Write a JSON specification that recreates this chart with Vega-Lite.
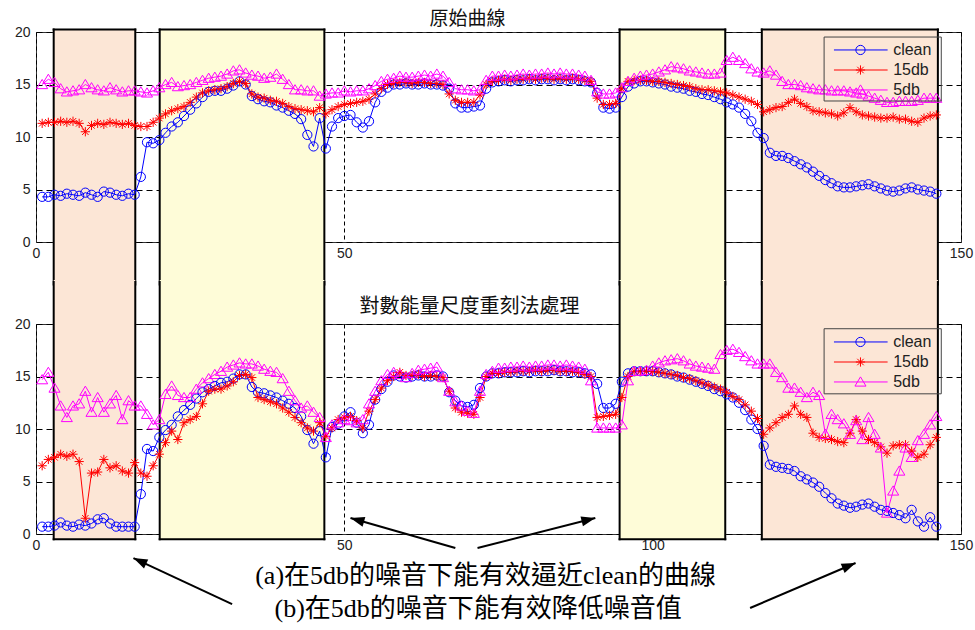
{
  "$schema": "https://vega.github.io/schema/vega-lite/v6.json",
  "padding": {"left": 13, "top": 9, "right": 5, "bottom": 5},
  "background": "white",
  "bounds": "flush",
  "spacing": 82,
  "config": {
    "view": {"stroke": "#333", "strokeWidth": 1},
    "axis": {"labelFont": "Liberation Sans", "labelFontSize": 14, "labelColor": "#222", "ticks": false, "domain": false, "grid": true, "gridColor": "#000", "gridWidth": 1, "zindex": 1, "labelFlush": false},
    "axisX": {"tickCount": 3, "gridDash": [4, 3], "labelPadding": 4},
    "axisY": {"tickCount": 4, "gridDash": [6, 4], "labelPadding": 6},
    "title": {"font": "Noto Sans CJK TC", "fontSize": 20, "fontWeight": "normal", "color": "#111", "anchor": "middle", "frame": "group"}
  },
  "datasets": {
    "boxes": [
      {"start": 2.87, "end": 16.1, "kind": "noise"},
      {"start": 20.06, "end": 46.76, "kind": "approx"},
      {"start": 94.64, "end": 111.77, "kind": "approx"},
      {"start": 117.7, "end": 146.25, "kind": "noise"}
    ],
    "legend": [
      {"series": "clean", "ly": 18.29},
      {"series": "15db", "ly": 16.38},
      {"series": "5db", "ly": 14.48}
    ],
    "arrows": [
      {"id": "a1", "tx": 68.0, "ty": -1.33, "hx": 51.0, "hy": 1.52},
      {"id": "a2", "tx": 71.6, "ty": -1.33, "hx": 90.7, "hy": 1.52},
      {"id": "a3", "tx": 31.8, "ty": -6.67, "hx": 15.8, "hy": -2.29},
      {"id": "a4", "tx": 115.8, "ty": -7.05, "hx": 132.9, "hy": -2.76}
    ],
    "notes": [
      {"t": "(a)在5db的噪音下能有效逼近clean的曲線", "x": 72.9, "y": -4.0},
      {"t": "(b)在5db的噪音下能有效降低噪音值", "x": 71.7, "y": -7.14}
    ],
    "top": [
      {"x":1,"clean":4.3,"15db":11.3,"5db":15.0},{"x":2,"clean":4.3,"15db":11.4,"5db":15.5},{"x":3,"clean":4.5,"15db":11.4,"5db":15.2},{"x":4,"clean":4.4,"15db":11.5,"5db":14.6},{"x":5,"clean":4.6,"15db":11.4,"5db":14.3},
      {"x":6,"clean":4.5,"15db":11.5,"5db":14.4},{"x":7,"clean":4.4,"15db":11.3,"5db":14.5},{"x":8,"clean":4.7,"15db":10.5,"5db":15.0},{"x":9,"clean":4.5,"15db":11.1,"5db":14.7},{"x":10,"clean":4.3,"15db":11.3,"5db":14.5},
      {"x":11,"clean":4.8,"15db":11.2,"5db":14.4},{"x":12,"clean":4.7,"15db":11.4,"5db":14.7},{"x":13,"clean":4.5,"15db":11.3,"5db":14.5},{"x":14,"clean":4.4,"15db":11.2,"5db":14.3},{"x":15,"clean":4.6,"15db":11.3,"5db":14.4},
      {"x":16,"clean":4.5,"15db":11.1,"5db":14.4},{"x":17,"clean":6.2,"15db":11.0,"5db":14.3},{"x":18,"clean":9.5,"15db":11.0,"5db":14.2},{"x":19,"clean":9.4,"15db":11.4,"5db":14.4},{"x":20,"clean":9.7,"15db":11.8,"5db":14.7},
      {"x":21,"clean":10.4,"15db":12.2,"5db":15.0},{"x":22,"clean":11.0,"15db":12.5,"5db":15.2},{"x":23,"clean":11.4,"15db":12.7,"5db":14.8},{"x":24,"clean":12.0,"15db":12.9,"5db":14.9},{"x":25,"clean":12.6,"15db":13.3,"5db":15.0},
      {"x":26,"clean":13.2,"15db":13.8,"5db":15.2},{"x":27,"clean":13.8,"15db":14.2,"5db":15.4},{"x":28,"clean":14.3,"15db":14.4,"5db":15.6},{"x":29,"clean":14.4,"15db":14.5,"5db":15.7},{"x":30,"clean":14.4,"15db":14.6,"5db":15.8},
      {"x":31,"clean":14.6,"15db":14.8,"5db":16.0},{"x":32,"clean":14.9,"15db":15.1,"5db":16.3},{"x":33,"clean":15.3,"15db":15.3,"5db":16.4},{"x":34,"clean":15.0,"15db":15.1,"5db":16.1},{"x":35,"clean":13.9,"15db":14.1,"5db":15.9},
      {"x":36,"clean":13.6,"15db":13.8,"5db":15.8},{"x":37,"clean":13.4,"15db":13.7,"5db":15.6},{"x":38,"clean":13.3,"15db":13.5,"5db":15.7},{"x":39,"clean":13.0,"15db":13.4,"5db":16.0},{"x":40,"clean":12.8,"15db":13.2,"5db":15.5},
      {"x":41,"clean":12.5,"15db":12.9,"5db":15.0},{"x":42,"clean":12.2,"15db":12.7,"5db":14.5},{"x":43,"clean":11.7,"15db":12.6,"5db":14.5},{"x":44,"clean":10.2,"15db":12.5,"5db":14.4},{"x":45,"clean":9.1,"15db":12.4,"5db":14.4},
      {"x":46,"clean":11.8,"15db":12.8,"5db":13.9},{"x":47,"clean":8.9,"15db":12.2,"5db":14.1},{"x":48,"clean":11.0,"15db":12.6,"5db":14.2},{"x":49,"clean":11.8,"15db":12.9,"5db":14.2},{"x":50,"clean":12.0,"15db":13.1,"5db":14.4},
      {"x":51,"clean":12.1,"15db":13.2,"5db":14.3},{"x":52,"clean":11.4,"15db":13.3,"5db":14.4},{"x":53,"clean":10.9,"15db":13.4,"5db":14.4},{"x":54,"clean":11.5,"15db":13.6,"5db":14.6},{"x":55,"clean":13.3,"15db":14.1,"5db":14.9},
      {"x":56,"clean":14.3,"15db":14.6,"5db":15.3},{"x":57,"clean":14.7,"15db":15.0,"5db":15.5},{"x":58,"clean":15.0,"15db":15.1,"5db":15.6},{"x":59,"clean":15.0,"15db":15.2,"5db":15.8},{"x":60,"clean":15.1,"15db":15.2,"5db":15.7},
      {"x":61,"clean":15.0,"15db":15.1,"5db":15.7},{"x":62,"clean":15.0,"15db":15.2,"5db":15.8},{"x":63,"clean":15.1,"15db":15.2,"5db":15.9},{"x":64,"clean":15.0,"15db":15.1,"5db":15.8},{"x":65,"clean":15.0,"15db":15.1,"5db":16.0},
      {"x":66,"clean":14.9,"15db":15.0,"5db":15.8},{"x":67,"clean":14.6,"15db":14.1,"5db":15.2},{"x":68,"clean":13.2,"15db":13.5,"5db":14.6},{"x":69,"clean":12.8,"15db":13.3,"5db":14.5},{"x":70,"clean":12.8,"15db":13.3,"5db":14.5},
      {"x":71,"clean":12.9,"15db":13.3,"5db":14.4},{"x":72,"clean":13.0,"15db":14.0,"5db":14.5},{"x":73,"clean":14.6,"15db":15.0,"5db":15.4},{"x":74,"clean":15.2,"15db":15.3,"5db":15.8},{"x":75,"clean":15.3,"15db":15.4,"5db":15.8},
      {"x":76,"clean":15.4,"15db":15.5,"5db":15.9},{"x":77,"clean":15.3,"15db":15.4,"5db":15.8},{"x":78,"clean":15.4,"15db":15.5,"5db":15.9},{"x":79,"clean":15.4,"15db":15.5,"5db":16.0},{"x":80,"clean":15.5,"15db":15.6,"5db":15.9},
      {"x":81,"clean":15.4,"15db":15.5,"5db":16.0},{"x":82,"clean":15.5,"15db":15.6,"5db":16.0},{"x":83,"clean":15.5,"15db":15.6,"5db":16.1},{"x":84,"clean":15.4,"15db":15.5,"5db":16.0},{"x":85,"clean":15.5,"15db":15.6,"5db":16.1},
      {"x":86,"clean":15.4,"15db":15.5,"5db":16.0},{"x":87,"clean":15.5,"15db":15.6,"5db":16.0},{"x":88,"clean":15.4,"15db":15.5,"5db":15.9},{"x":89,"clean":15.3,"15db":15.4,"5db":15.8},{"x":90,"clean":15.2,"15db":15.3,"5db":15.4},
      {"x":91,"clean":14.2,"15db":13.7,"5db":14.3},{"x":92,"clean":12.8,"15db":13.1,"5db":14.1},{"x":93,"clean":12.7,"15db":13.1,"5db":14.1},{"x":94,"clean":12.8,"15db":13.2,"5db":14.2},{"x":95,"clean":13.8,"15db":14.6,"5db":14.7},
      {"x":96,"clean":14.8,"15db":15.3,"5db":15.3},{"x":97,"clean":15.1,"15db":15.4,"5db":15.6},{"x":98,"clean":15.3,"15db":15.4,"5db":15.8},{"x":99,"clean":15.3,"15db":15.4,"5db":15.9},{"x":100,"clean":15.2,"15db":15.3,"5db":16.0},
      {"x":101,"clean":15.1,"15db":15.3,"5db":16.2},{"x":102,"clean":15.0,"15db":15.2,"5db":16.4},{"x":103,"clean":14.8,"15db":15.1,"5db":16.7},{"x":104,"clean":14.7,"15db":15.0,"5db":16.6},{"x":105,"clean":14.6,"15db":14.9,"5db":16.5},
      {"x":106,"clean":14.4,"15db":14.8,"5db":16.3},{"x":107,"clean":14.3,"15db":14.6,"5db":16.2},{"x":108,"clean":14.1,"15db":14.5,"5db":16.1},{"x":109,"clean":14.0,"15db":14.5,"5db":16.0},{"x":110,"clean":13.8,"15db":14.4,"5db":16.0},
      {"x":111,"clean":13.6,"15db":14.3,"5db":16.1},{"x":112,"clean":13.3,"15db":14.2,"5db":17.3},{"x":113,"clean":13.1,"15db":14.0,"5db":17.6},{"x":114,"clean":12.8,"15db":13.8,"5db":17.3},{"x":115,"clean":12.2,"15db":13.6,"5db":17.0},
      {"x":116,"clean":11.5,"15db":13.4,"5db":16.5},{"x":117,"clean":10.4,"15db":13.1,"5db":16.2},{"x":118,"clean":9.9,"15db":12.4,"5db":16.1},{"x":119,"clean":8.5,"15db":12.6,"5db":16.3},{"x":120,"clean":8.2,"15db":12.8,"5db":15.9},
      {"x":121,"clean":8.2,"15db":12.9,"5db":15.3},{"x":122,"clean":8.0,"15db":13.3,"5db":15.0},{"x":123,"clean":7.7,"15db":13.6,"5db":15.0},{"x":124,"clean":7.4,"15db":13.2,"5db":14.9},{"x":125,"clean":7.1,"15db":12.9,"5db":14.7},
      {"x":126,"clean":6.7,"15db":12.5,"5db":14.6},{"x":127,"clean":6.3,"15db":12.4,"5db":14.5},{"x":128,"clean":5.9,"15db":12.3,"5db":14.5},{"x":129,"clean":5.6,"15db":12.2,"5db":14.4},{"x":130,"clean":5.3,"15db":12.0,"5db":14.4},
      {"x":131,"clean":5.2,"15db":12.3,"5db":14.4},{"x":132,"clean":5.2,"15db":12.8,"5db":14.3},{"x":133,"clean":5.3,"15db":12.4,"5db":14.2},{"x":134,"clean":5.4,"15db":12.1,"5db":14.1},{"x":135,"clean":5.5,"15db":12.0,"5db":13.9},
      {"x":136,"clean":5.3,"15db":11.9,"5db":13.7},{"x":137,"clean":5.1,"15db":11.8,"5db":13.5},{"x":138,"clean":4.9,"15db":11.8,"5db":13.3},{"x":139,"clean":4.8,"15db":11.9,"5db":13.3},{"x":140,"clean":4.9,"15db":11.7,"5db":13.4},
      {"x":141,"clean":5.1,"15db":11.7,"5db":13.4},{"x":142,"clean":5.2,"15db":11.5,"5db":13.4},{"x":143,"clean":5.0,"15db":11.4,"5db":13.5},{"x":144,"clean":4.9,"15db":11.8,"5db":13.7},{"x":145,"clean":4.8,"15db":12.0,"5db":13.7},
      {"x":146,"clean":4.6,"15db":12.1,"5db":13.7}
    ],
    "bottom": [
      {"x":1,"clean":0.7,"15db":6.5,"5db":14.7},{"x":2,"clean":0.7,"15db":7.1,"5db":15.4},{"x":3,"clean":0.8,"15db":7.3,"5db":13.9},{"x":4,"clean":1.1,"15db":7.6,"5db":12.2},{"x":5,"clean":0.8,"15db":7.4,"5db":11.1},
      {"x":6,"clean":0.7,"15db":7.6,"5db":12.2},{"x":7,"clean":0.9,"15db":6.9,"5db":12.4},{"x":8,"clean":0.8,"15db":1.5,"5db":13.6},{"x":9,"clean":1.0,"15db":5.8,"5db":11.6},{"x":10,"clean":1.4,"15db":5.9,"5db":13.0},
      {"x":11,"clean":1.5,"15db":7.1,"5db":11.6},{"x":12,"clean":1.0,"15db":6.3,"5db":12.4},{"x":13,"clean":0.7,"15db":6.5,"5db":13.2},{"x":14,"clean":0.7,"15db":6.0,"5db":10.9},{"x":15,"clean":0.7,"15db":5.8,"5db":12.7},
      {"x":16,"clean":0.7,"15db":6.8,"5db":12.2},{"x":17,"clean":3.8,"15db":5.8,"5db":12.2},{"x":18,"clean":8.1,"15db":5.5,"5db":11.4},{"x":19,"clean":7.9,"15db":6.5,"5db":10.4},{"x":20,"clean":9.2,"15db":7.6,"5db":10.9},
      {"x":21,"clean":9.9,"15db":8.7,"5db":13.3},{"x":22,"clean":10.4,"15db":9.8,"5db":14.1},{"x":23,"clean":11.2,"15db":9.0,"5db":13.2},{"x":24,"clean":11.8,"15db":10.6,"5db":13.0},{"x":25,"clean":12.3,"15db":10.9,"5db":13.0},
      {"x":26,"clean":12.9,"15db":11.2,"5db":13.8},{"x":27,"clean":13.5,"15db":12.4,"5db":14.4},{"x":28,"clean":13.8,"15db":13.6,"5db":14.8},{"x":29,"clean":14.1,"15db":13.8,"5db":15.2},{"x":30,"clean":14.4,"15db":13.8,"5db":15.5},
      {"x":31,"clean":14.5,"15db":14.1,"5db":15.9},{"x":32,"clean":14.8,"15db":14.5,"5db":16.1},{"x":33,"clean":15.2,"15db":15.1,"5db":16.3},{"x":34,"clean":15.2,"15db":15.2,"5db":16.2},{"x":35,"clean":14.0,"15db":14.9,"5db":16.2},
      {"x":36,"clean":13.5,"15db":13.0,"5db":16.0},{"x":37,"clean":13.4,"15db":12.8,"5db":15.7},{"x":38,"clean":13.2,"15db":12.6,"5db":15.5},{"x":39,"clean":13.0,"15db":12.4,"5db":15.4},{"x":40,"clean":12.7,"15db":12.0,"5db":14.8},
      {"x":41,"clean":12.4,"15db":11.6,"5db":13.6},{"x":42,"clean":12.0,"15db":11.1,"5db":12.7},{"x":43,"clean":11.2,"15db":10.6,"5db":12.0},{"x":44,"clean":9.9,"15db":10.1,"5db":12.2},{"x":45,"clean":8.6,"15db":9.8,"5db":11.6},
      {"x":46,"clean":9.8,"15db":10.6,"5db":11.1},{"x":47,"clean":7.3,"15db":9.3,"5db":9.2},{"x":48,"clean":10.2,"15db":10.1,"5db":10.4},{"x":49,"clean":10.5,"15db":10.9,"5db":10.6},{"x":50,"clean":11.2,"15db":11.1,"5db":10.9},
      {"x":51,"clean":11.6,"15db":11.2,"5db":10.8},{"x":52,"clean":10.6,"15db":10.8,"5db":10.6},{"x":53,"clean":9.6,"15db":10.1,"5db":10.9},{"x":54,"clean":10.4,"15db":11.7,"5db":12.4},{"x":55,"clean":12.8,"15db":12.8,"5db":13.6},
      {"x":56,"clean":13.8,"15db":13.9,"5db":14.6},{"x":57,"clean":14.5,"15db":14.6,"5db":15.2},{"x":58,"clean":15.1,"15db":15.0,"5db":15.4},{"x":59,"clean":15.0,"15db":15.4,"5db":15.2},{"x":60,"clean":14.9,"15db":15.1,"5db":14.9},
      {"x":61,"clean":15.0,"15db":15.1,"5db":15.3},{"x":62,"clean":15.1,"15db":15.2,"5db":15.6},{"x":63,"clean":15.0,"15db":15.0,"5db":15.7},{"x":64,"clean":15.0,"15db":15.1,"5db":15.8},{"x":65,"clean":15.1,"15db":15.0,"5db":15.9},
      {"x":66,"clean":15.0,"15db":14.9,"5db":14.9},{"x":67,"clean":13.5,"15db":13.6,"5db":13.6},{"x":68,"clean":12.7,"15db":12.0,"5db":12.6},{"x":69,"clean":12.2,"15db":11.6,"5db":12.2},{"x":70,"clean":12.1,"15db":11.5,"5db":11.7},
      {"x":71,"clean":12.3,"15db":11.4,"5db":11.5},{"x":72,"clean":13.9,"15db":13.0,"5db":13.6},{"x":73,"clean":15.0,"15db":15.0,"5db":15.2},{"x":74,"clean":15.3,"15db":15.3,"5db":15.5},{"x":75,"clean":15.3,"15db":15.3,"5db":15.8},
      {"x":76,"clean":15.4,"15db":15.4,"5db":15.8},{"x":77,"clean":15.4,"15db":15.4,"5db":15.9},{"x":78,"clean":15.4,"15db":15.5,"5db":15.9},{"x":79,"clean":15.5,"15db":15.5,"5db":16.0},{"x":80,"clean":15.4,"15db":15.5,"5db":15.9},
      {"x":81,"clean":15.5,"15db":15.6,"5db":16.0},{"x":82,"clean":15.5,"15db":15.5,"5db":16.0},{"x":83,"clean":15.5,"15db":15.6,"5db":16.1},{"x":84,"clean":15.6,"15db":15.6,"5db":16.1},{"x":85,"clean":15.5,"15db":15.5,"5db":16.0},
      {"x":86,"clean":15.5,"15db":15.5,"5db":16.1},{"x":87,"clean":15.4,"15db":15.5,"5db":16.0},{"x":88,"clean":15.4,"15db":15.4,"5db":15.9},{"x":89,"clean":15.3,"15db":15.2,"5db":15.7},{"x":90,"clean":15.2,"15db":15.0,"5db":14.6},
      {"x":91,"clean":14.3,"15db":11.1,"5db":10.1},{"x":92,"clean":12.0,"15db":11.2,"5db":10.1},{"x":93,"clean":12.0,"15db":11.3,"5db":10.1},{"x":94,"clean":12.4,"15db":11.4,"5db":10.1},{"x":95,"clean":14.5,"15db":13.0,"5db":10.4},
      {"x":96,"clean":15.3,"15db":15.0,"5db":14.6},{"x":97,"clean":15.5,"15db":15.5,"5db":15.5},{"x":98,"clean":15.5,"15db":15.5,"5db":15.5},{"x":99,"clean":15.5,"15db":15.5,"5db":15.6},{"x":100,"clean":15.5,"15db":15.5,"5db":16.0},
      {"x":101,"clean":15.4,"15db":15.4,"5db":16.3},{"x":102,"clean":15.3,"15db":15.3,"5db":16.5},{"x":103,"clean":15.2,"15db":15.2,"5db":16.6},{"x":104,"clean":15.0,"15db":15.1,"5db":16.7},{"x":105,"clean":14.9,"15db":14.9,"5db":16.5},
      {"x":106,"clean":14.7,"15db":14.8,"5db":16.2},{"x":107,"clean":14.5,"15db":14.6,"5db":16.0},{"x":108,"clean":14.3,"15db":14.4,"5db":15.9},{"x":109,"clean":14.1,"15db":14.2,"5db":15.8},{"x":110,"clean":13.8,"15db":14.0,"5db":15.7},
      {"x":111,"clean":13.6,"15db":13.8,"5db":17.1},{"x":112,"clean":13.3,"15db":13.5,"5db":17.5},{"x":113,"clean":13.0,"15db":13.1,"5db":17.6},{"x":114,"clean":12.5,"15db":12.8,"5db":17.3},{"x":115,"clean":11.8,"15db":12.3,"5db":16.9},
      {"x":116,"clean":10.9,"15db":11.7,"5db":16.5},{"x":117,"clean":10.0,"15db":11.0,"5db":16.2},{"x":118,"clean":8.4,"15db":9.5,"5db":16.2},{"x":119,"clean":6.6,"15db":10.1,"5db":16.2},{"x":120,"clean":6.4,"15db":10.6,"5db":15.4},
      {"x":121,"clean":6.3,"15db":11.1,"5db":14.9},{"x":122,"clean":6.2,"15db":11.4,"5db":13.9},{"x":123,"clean":6.0,"15db":12.2,"5db":13.9},{"x":124,"clean":5.5,"15db":11.4,"5db":13.5},{"x":125,"clean":5.2,"15db":11.1,"5db":13.0},
      {"x":126,"clean":4.9,"15db":9.6,"5db":13.5},{"x":127,"clean":4.5,"15db":9.2,"5db":13.2},{"x":128,"clean":3.9,"15db":9.1,"5db":9.5},{"x":129,"clean":3.4,"15db":9.0,"5db":11.4},{"x":130,"clean":2.9,"15db":8.8,"5db":10.9},
      {"x":131,"clean":2.7,"15db":8.7,"5db":10.5},{"x":132,"clean":2.5,"15db":9.6,"5db":9.5},{"x":133,"clean":2.6,"15db":10.9,"5db":10.8},{"x":134,"clean":2.8,"15db":9.8,"5db":9.0},{"x":135,"clean":2.9,"15db":9.0,"5db":11.1},
      {"x":136,"clean":2.6,"15db":8.7,"5db":9.5},{"x":137,"clean":2.3,"15db":8.3,"5db":8.2},{"x":138,"clean":2.2,"15db":7.7,"5db":2.0},{"x":139,"clean":2.0,"15db":8.4,"5db":4.1},{"x":140,"clean":1.8,"15db":8.5,"5db":6.0},
      {"x":141,"clean":1.5,"15db":8.5,"5db":8.2},{"x":142,"clean":2.3,"15db":7.9,"5db":7.3},{"x":143,"clean":1.2,"15db":7.3,"5db":8.9},{"x":144,"clean":0.7,"15db":7.6,"5db":9.5},{"x":145,"clean":1.6,"15db":8.5,"5db":10.4},
      {"x":146,"clean":0.7,"15db":9.2,"5db":11.2}
    ]
  },
  "resolve": {
    "scale": {"x": "independent", "y": "independent", "color": "independent", "shape": "independent", "stroke": "independent", "fill": "independent"}
  },
  "vconcat": [
    {
      "width": 925,
      "height": 210,
      "title": {"text": "原始曲線", "dx": -31, "offset": -4, "fontSize": 19},
      "layer": [
        {
          "data": {"name": "boxes"},
          "mark": {"type": "rect"},
          "encoding": {
            "x": {"field": "start", "type": "quantitative", "scale": {"domain": [0, 150], "nice": false, "zero": false}, "axis": {"title": null}},
            "x2": {"field": "end"},
            "y": {"datum": 20.25, "type": "quantitative", "scale": {"domain": [0, 20], "nice": false}, "axis": {"title": null}},
            "y2": {"datum": -4.05},
            "fill": {"field": "kind", "type": "nominal", "scale": {"domain": ["noise", "approx"], "range": ["#fce6d6", "#fefcd8"]}, "legend": null}
          }
        },
        {
          "data": {"name": "boxes"},
          "mark": {"type": "rule", "color": "#000", "strokeWidth": 2, "strokeCap": "square"},
          "encoding": {
            "x": {"field": "start", "type": "quantitative", "scale": {"domain": [0, 150], "nice": false, "zero": false}, "axis": {"title": null}},
            "y": {"datum": 20.25, "type": "quantitative", "scale": {"domain": [0, 20], "nice": false}, "axis": {"title": null}},
            "y2": {"datum": -4.05}
          }
        },
        {
          "data": {"name": "boxes"},
          "mark": {"type": "rule", "color": "#000", "strokeWidth": 2, "strokeCap": "square"},
          "encoding": {
            "x": {"field": "end", "type": "quantitative", "scale": {"domain": [0, 150], "nice": false, "zero": false}, "axis": {"title": null}},
            "y": {"datum": 20.25, "type": "quantitative", "scale": {"domain": [0, 20], "nice": false}, "axis": {"title": null}},
            "y2": {"datum": -4.05}
          }
        },
        {
          "data": {"name": "boxes"},
          "mark": {"type": "rule", "color": "#000", "strokeWidth": 2, "strokeCap": "square"},
          "encoding": {
            "x": {"field": "start", "type": "quantitative", "scale": {"domain": [0, 150], "nice": false, "zero": false}, "axis": {"title": null}},
            "x2": {"field": "end"},
            "y": {"datum": 20.25, "type": "quantitative", "scale": {"domain": [0, 20], "nice": false}, "axis": {"title": null}}
          }
        },
        {
          "data": {"name": "top"},
          "transform": [{"fold": ["clean", "15db", "5db"], "as": ["series", "v"]}],
          "mark": {"type": "line", "strokeWidth": 1},
          "encoding": {
            "x": {"field": "x", "type": "quantitative", "scale": {"domain": [0, 150], "nice": false, "zero": false}, "axis": {"title": null}},
            "y": {"field": "v", "type": "quantitative", "scale": {"domain": [0, 20], "nice": false}, "axis": {"title": null}},
            "stroke": {"field": "series", "type": "nominal", "scale": {"domain": ["clean", "15db", "5db"], "range": ["#0000ff", "#ff0000", "#ff00ff"]}, "legend": null}
          }
        },
        {
          "data": {"name": "top"},
          "transform": [{"fold": ["clean", "15db", "5db"], "as": ["series", "v"]}],
          "mark": {"type": "point", "filled": false, "size": 85, "strokeWidth": 1, "opacity": 1},
          "encoding": {
            "x": {"field": "x", "type": "quantitative", "scale": {"domain": [0, 150], "nice": false, "zero": false}, "axis": {"title": null}},
            "y": {"field": "v", "type": "quantitative", "scale": {"domain": [0, 20], "nice": false}, "axis": {"title": null}},
            "color": {"field": "series", "type": "nominal", "scale": {"domain": ["clean", "15db", "5db"], "range": ["#0000ff", "#ff0000", "#ff00ff"]}, "legend": null},
            "shape": {"field": "series", "type": "nominal", "scale": {"domain": ["clean", "15db", "5db"], "range": ["circle", "M-1,0L1,0M0,-1L0,1M-0.7,-0.7L0.7,0.7M-0.7,0.7L0.7,-0.7", "M0,-1.1L1.2,0.9L-1.2,0.9Z"]}, "legend": null}
          }
        },
        {
          "data": {"values": [{}]},
          "mark": {"type": "rect", "fill": "transparent", "stroke": "#444", "strokeWidth": 1},
          "encoding": {
            "x": {"datum": 127.8, "type": "quantitative", "scale": {"domain": [0, 150], "nice": false, "zero": false}, "axis": {"title": null}},
            "x2": {"datum": 146.8},
            "y": {"datum": 19.52, "type": "quantitative", "scale": {"domain": [0, 20], "nice": false}, "axis": {"title": null}},
            "y2": {"datum": 13.43}
          }
        },
        {
          "data": {"name": "legend"},
          "mark": {"type": "rule", "strokeWidth": 1},
          "encoding": {
            "x": {"datum": 129.4, "type": "quantitative", "scale": {"domain": [0, 150], "nice": false, "zero": false}, "axis": {"title": null}},
            "x2": {"datum": 138.1},
            "y": {"field": "ly", "type": "quantitative", "scale": {"domain": [0, 20], "nice": false}, "axis": {"title": null}},
            "stroke": {"field": "series", "type": "nominal", "scale": {"domain": ["clean", "15db", "5db"], "range": ["#0000ff", "#ff0000", "#ff00ff"]}, "legend": null}
          }
        },
        {
          "data": {"name": "legend"},
          "mark": {"type": "point", "filled": false, "size": 85, "strokeWidth": 1, "opacity": 1},
          "encoding": {
            "x": {"datum": 133.7, "type": "quantitative", "scale": {"domain": [0, 150], "nice": false, "zero": false}, "axis": {"title": null}},
            "y": {"field": "ly", "type": "quantitative", "scale": {"domain": [0, 20], "nice": false}, "axis": {"title": null}},
            "color": {"field": "series", "type": "nominal", "scale": {"domain": ["clean", "15db", "5db"], "range": ["#0000ff", "#ff0000", "#ff00ff"]}, "legend": null},
            "shape": {"field": "series", "type": "nominal", "scale": {"domain": ["clean", "15db", "5db"], "range": ["circle", "M-1,0L1,0M0,-1L0,1M-0.7,-0.7L0.7,0.7M-0.7,0.7L0.7,-0.7", "M0,-1.1L1.2,0.9L-1.2,0.9Z"]}, "legend": null}
          }
        },
        {
          "data": {"name": "legend"},
          "mark": {"type": "text", "align": "left", "baseline": "middle", "font": "Liberation Sans", "fontSize": 16, "color": "#222"},
          "encoding": {
            "x": {"datum": 139.0, "type": "quantitative", "scale": {"domain": [0, 150], "nice": false, "zero": false}, "axis": {"title": null}},
            "y": {"field": "ly", "type": "quantitative", "scale": {"domain": [0, 20], "nice": false}, "axis": {"title": null}},
            "text": {"field": "series", "type": "nominal"}
          }
        }
      ]
    },
    {
      "width": 925,
      "height": 210,
      "title": {"text": "對數能量尺度重刻法處理", "dx": -29, "offset": -37},
      "layer": [
        {
          "data": {"name": "boxes"},
          "mark": {"type": "rect"},
          "encoding": {
            "x": {"field": "start", "type": "quantitative", "scale": {"domain": [0, 150], "nice": false, "zero": false}, "axis": {"title": null}},
            "x2": {"field": "end"},
            "y": {"datum": 24.2, "type": "quantitative", "scale": {"domain": [0, 20], "nice": false}, "axis": {"title": null}},
            "y2": {"datum": -0.5},
            "fill": {"field": "kind", "type": "nominal", "scale": {"domain": ["noise", "approx"], "range": ["#fce6d6", "#fefcd8"]}, "legend": null}
          }
        },
        {
          "data": {"name": "boxes"},
          "mark": {"type": "rule", "color": "#000", "strokeWidth": 2, "strokeCap": "square"},
          "encoding": {
            "x": {"field": "start", "type": "quantitative", "scale": {"domain": [0, 150], "nice": false, "zero": false}, "axis": {"title": null}},
            "y": {"datum": 24.0, "type": "quantitative", "scale": {"domain": [0, 20], "nice": false}, "axis": {"title": null}},
            "y2": {"datum": -0.5}
          }
        },
        {
          "data": {"name": "boxes"},
          "mark": {"type": "rule", "color": "#000", "strokeWidth": 2, "strokeCap": "square"},
          "encoding": {
            "x": {"field": "end", "type": "quantitative", "scale": {"domain": [0, 150], "nice": false, "zero": false}, "axis": {"title": null}},
            "y": {"datum": 24.0, "type": "quantitative", "scale": {"domain": [0, 20], "nice": false}, "axis": {"title": null}},
            "y2": {"datum": -0.5}
          }
        },
        {
          "data": {"name": "boxes"},
          "mark": {"type": "rule", "color": "#000", "strokeWidth": 2, "strokeCap": "square"},
          "encoding": {
            "x": {"field": "start", "type": "quantitative", "scale": {"domain": [0, 150], "nice": false, "zero": false}, "axis": {"title": null}},
            "x2": {"field": "end"},
            "y": {"datum": -0.5, "type": "quantitative", "scale": {"domain": [0, 20], "nice": false}, "axis": {"title": null}}
          }
        },
        {
          "data": {"name": "bottom"},
          "transform": [{"fold": ["clean", "15db", "5db"], "as": ["series", "v"]}],
          "mark": {"type": "line", "strokeWidth": 1},
          "encoding": {
            "x": {"field": "x", "type": "quantitative", "scale": {"domain": [0, 150], "nice": false, "zero": false}, "axis": {"title": null}},
            "y": {"field": "v", "type": "quantitative", "scale": {"domain": [0, 20], "nice": false}, "axis": {"title": null}},
            "stroke": {"field": "series", "type": "nominal", "scale": {"domain": ["clean", "15db", "5db"], "range": ["#0000ff", "#ff0000", "#ff00ff"]}, "legend": null}
          }
        },
        {
          "data": {"name": "bottom"},
          "transform": [{"fold": ["clean", "15db", "5db"], "as": ["series", "v"]}],
          "mark": {"type": "point", "filled": false, "size": 85, "strokeWidth": 1, "opacity": 1},
          "encoding": {
            "x": {"field": "x", "type": "quantitative", "scale": {"domain": [0, 150], "nice": false, "zero": false}, "axis": {"title": null}},
            "y": {"field": "v", "type": "quantitative", "scale": {"domain": [0, 20], "nice": false}, "axis": {"title": null}},
            "color": {"field": "series", "type": "nominal", "scale": {"domain": ["clean", "15db", "5db"], "range": ["#0000ff", "#ff0000", "#ff00ff"]}, "legend": null},
            "shape": {"field": "series", "type": "nominal", "scale": {"domain": ["clean", "15db", "5db"], "range": ["circle", "M-1,0L1,0M0,-1L0,1M-0.7,-0.7L0.7,0.7M-0.7,0.7L0.7,-0.7", "M0,-1.1L1.2,0.9L-1.2,0.9Z"]}, "legend": null}
          }
        },
        {
          "data": {"values": [{}]},
          "mark": {"type": "rect", "fill": "transparent", "stroke": "#444", "strokeWidth": 1},
          "encoding": {
            "x": {"datum": 127.8, "type": "quantitative", "scale": {"domain": [0, 150], "nice": false, "zero": false}, "axis": {"title": null}},
            "x2": {"datum": 146.8},
            "y": {"datum": 19.55, "type": "quantitative", "scale": {"domain": [0, 20], "nice": false}, "axis": {"title": null}},
            "y2": {"datum": 13.35}
          }
        },
        {
          "data": {"name": "legend"},
          "mark": {"type": "rule", "strokeWidth": 1},
          "encoding": {
            "x": {"datum": 129.4, "type": "quantitative", "scale": {"domain": [0, 150], "nice": false, "zero": false}, "axis": {"title": null}},
            "x2": {"datum": 138.1},
            "y": {"field": "ly", "type": "quantitative", "scale": {"domain": [0, 20], "nice": false}, "axis": {"title": null}},
            "stroke": {"field": "series", "type": "nominal", "scale": {"domain": ["clean", "15db", "5db"], "range": ["#0000ff", "#ff0000", "#ff00ff"]}, "legend": null}
          }
        },
        {
          "data": {"name": "legend"},
          "mark": {"type": "point", "filled": false, "size": 85, "strokeWidth": 1, "opacity": 1},
          "encoding": {
            "x": {"datum": 133.7, "type": "quantitative", "scale": {"domain": [0, 150], "nice": false, "zero": false}, "axis": {"title": null}},
            "y": {"field": "ly", "type": "quantitative", "scale": {"domain": [0, 20], "nice": false}, "axis": {"title": null}},
            "color": {"field": "series", "type": "nominal", "scale": {"domain": ["clean", "15db", "5db"], "range": ["#0000ff", "#ff0000", "#ff00ff"]}, "legend": null},
            "shape": {"field": "series", "type": "nominal", "scale": {"domain": ["clean", "15db", "5db"], "range": ["circle", "M-1,0L1,0M0,-1L0,1M-0.7,-0.7L0.7,0.7M-0.7,0.7L0.7,-0.7", "M0,-1.1L1.2,0.9L-1.2,0.9Z"]}, "legend": null}
          }
        },
        {
          "data": {"name": "legend"},
          "mark": {"type": "text", "align": "left", "baseline": "middle", "font": "Liberation Sans", "fontSize": 16, "color": "#222"},
          "encoding": {
            "x": {"datum": 139.0, "type": "quantitative", "scale": {"domain": [0, 150], "nice": false, "zero": false}, "axis": {"title": null}},
            "y": {"field": "ly", "type": "quantitative", "scale": {"domain": [0, 20], "nice": false}, "axis": {"title": null}},
            "text": {"field": "series", "type": "nominal"}
          }
        },
        {
          "data": {"name": "arrows"},
          "mark": {"type": "rule", "color": "#000", "strokeWidth": 2},
          "encoding": {
            "x": {"field": "tx", "type": "quantitative", "scale": {"domain": [0, 150], "nice": false, "zero": false}, "axis": {"title": null}},
            "y": {"field": "ty", "type": "quantitative", "scale": {"domain": [0, 20], "nice": false}, "axis": {"title": null}},
            "x2": {"field": "hx"},
            "y2": {"field": "hy"}
          }
        },
        {
          "data": {"name": "arrows"},
          "transform": [{"filter": "datum.id === 'a1'"}],
          "mark": {"type": "point", "shape": "M0,0L-0.5,1.4L0.5,1.4Z", "filled": true, "color": "#000", "size": 400, "angle": 286, "opacity": 1},
          "encoding": {
            "x": {"field": "hx", "type": "quantitative", "scale": {"domain": [0, 150], "nice": false, "zero": false}, "axis": {"title": null}},
            "y": {"field": "hy", "type": "quantitative", "scale": {"domain": [0, 20], "nice": false}, "axis": {"title": null}}
          }
        },
        {
          "data": {"name": "arrows"},
          "transform": [{"filter": "datum.id === 'a2'"}],
          "mark": {"type": "point", "shape": "M0,0L-0.5,1.4L0.5,1.4Z", "filled": true, "color": "#000", "size": 400, "angle": 76, "opacity": 1},
          "encoding": {
            "x": {"field": "hx", "type": "quantitative", "scale": {"domain": [0, 150], "nice": false, "zero": false}, "axis": {"title": null}},
            "y": {"field": "hy", "type": "quantitative", "scale": {"domain": [0, 20], "nice": false}, "axis": {"title": null}}
          }
        },
        {
          "data": {"name": "arrows"},
          "transform": [{"filter": "datum.id === 'a3'"}],
          "mark": {"type": "point", "shape": "M0,0L-0.5,1.4L0.5,1.4Z", "filled": true, "color": "#000", "size": 400, "angle": 295, "opacity": 1},
          "encoding": {
            "x": {"field": "hx", "type": "quantitative", "scale": {"domain": [0, 150], "nice": false, "zero": false}, "axis": {"title": null}},
            "y": {"field": "hy", "type": "quantitative", "scale": {"domain": [0, 20], "nice": false}, "axis": {"title": null}}
          }
        },
        {
          "data": {"name": "arrows"},
          "transform": [{"filter": "datum.id === 'a4'"}],
          "mark": {"type": "point", "shape": "M0,0L-0.5,1.4L0.5,1.4Z", "filled": true, "color": "#000", "size": 400, "angle": 67, "opacity": 1},
          "encoding": {
            "x": {"field": "hx", "type": "quantitative", "scale": {"domain": [0, 150], "nice": false, "zero": false}, "axis": {"title": null}},
            "y": {"field": "hy", "type": "quantitative", "scale": {"domain": [0, 20], "nice": false}, "axis": {"title": null}}
          }
        },
        {
          "data": {"name": "notes"},
          "mark": {"type": "text", "font": "'Liberation Serif', 'Noto Sans CJK TC', serif", "fontSize": 26, "color": "#000", "align": "center", "baseline": "middle"},
          "encoding": {
            "x": {"field": "x", "type": "quantitative", "scale": {"domain": [0, 150], "nice": false, "zero": false}, "axis": {"title": null}},
            "y": {"field": "y", "type": "quantitative", "scale": {"domain": [0, 20], "nice": false}, "axis": {"title": null}},
            "text": {"field": "t", "type": "nominal"}
          }
        }
      ]
    }
  ]
}
